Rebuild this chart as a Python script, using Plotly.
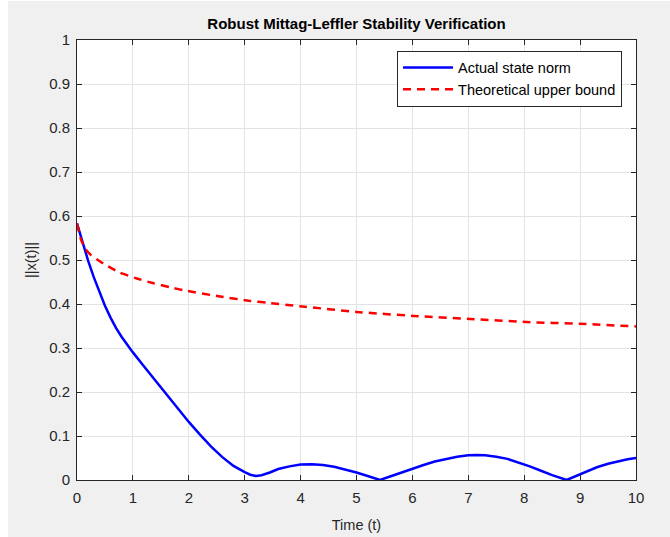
import plotly.graph_objects as go

# Actual state norm (blue solid)
t_actual = [0.0, 0.1, 0.2, 0.3, 0.4, 0.5, 0.6, 0.7, 0.8, 0.9, 1.0, 1.2, 1.4, 1.6, 1.8, 2.0, 2.2,
            2.4, 2.6, 2.8, 3.0, 3.1, 3.2, 3.3, 3.45, 3.6, 3.8, 4.0, 4.2, 4.4, 4.6, 4.8, 5.0, 5.2,
            5.42, 5.6, 5.8, 6.0, 6.2, 6.4, 6.6, 6.8, 7.0, 7.15, 7.3, 7.5, 7.7, 7.9, 8.1, 8.3,
            8.5, 8.76, 8.9, 9.1, 9.3, 9.5, 9.7, 9.85, 10.0]
x_actual = [0.583, 0.538, 0.498, 0.461, 0.427, 0.396, 0.369, 0.345, 0.325, 0.307, 0.290, 0.258,
            0.226, 0.194, 0.163, 0.132, 0.103, 0.076, 0.052, 0.032, 0.018, 0.012, 0.009, 0.011,
            0.017, 0.025, 0.031, 0.035, 0.036, 0.034, 0.030, 0.024, 0.017, 0.009, 0.0, 0.008,
            0.017, 0.026, 0.034, 0.042, 0.048, 0.053, 0.056, 0.057, 0.056, 0.053, 0.048, 0.040,
            0.031, 0.021, 0.011, 0.0, 0.008, 0.019, 0.029, 0.037, 0.043, 0.047, 0.050]

# Theoretical upper bound (red dashed)
t_bound = [0.0, 0.07, 0.15, 0.25, 0.47, 0.77, 1.07, 1.37, 1.66, 1.96, 2.56, 3.1, 3.39, 3.99,
           5.0, 6.02, 7.03, 8.04, 9.0, 10.0]
x_bound = [0.583, 0.547, 0.525, 0.511, 0.492, 0.471, 0.458, 0.447, 0.438, 0.430, 0.417, 0.407,
           0.403, 0.395, 0.382, 0.373, 0.366, 0.359, 0.355, 0.349]

x_ticks = list(range(0, 11))
x_tick_text = [str(v) for v in x_ticks]
y_ticks = [0, 0.1, 0.2, 0.3, 0.4, 0.5, 0.6, 0.7, 0.8, 0.9, 1]
y_tick_text = ["0", "0.1", "0.2", "0.3", "0.4", "0.5", "0.6", "0.7", "0.8", "0.9", "1"]

axis_color = "#262626"
font_family = "Liberation Sans, Arial, sans-serif"

fig = go.Figure()
fig.add_trace(go.Scatter(x=t_actual, y=x_actual, mode="lines", name="Actual state norm",
                         line=dict(color="#0000ff", width=2.5)))
fig.add_trace(go.Scatter(x=t_bound, y=x_bound, mode="lines", name="Theoretical upper bound",
                         line=dict(color="#ff0000", width=2.5, dash="8px,6px", shape="spline",
                                   smoothing=0.5)))

fig.update_layout(
    width=662, height=536,
    margin=dict(l=69, r=34, t=39, b=57, autoexpand=False),
    paper_bgcolor="#f0f0f0",
    plot_bgcolor="#ffffff",
    font=dict(family=font_family, color=axis_color, size=15),
    title=dict(text="<b>Robust Mittag-Leffler Stability Verification</b>",
               xref="paper", x=0.5, xanchor="center", y=0.957, yanchor="middle",
               font=dict(size=15, color="#000000")),
    showlegend=True,
    legend=dict(x=0.975, y=0.976, xanchor="right", yanchor="top",
                bgcolor="#ffffff", bordercolor=axis_color, borderwidth=1,
                font=dict(size=14.5, color="#000000"),
                tracegroupgap=0, itemwidth=50),
)

fig.update_xaxes(range=[0, 10], tickvals=x_ticks, ticktext=x_tick_text,
                 showgrid=True, gridcolor="#e3e3e3", gridwidth=1,
                 showline=True, linecolor=axis_color, linewidth=1, mirror="allticks",
                 ticks="inside", ticklen=5, tickcolor=axis_color, ticklabelstandoff=4,
                 tickfont=dict(size=15, color=axis_color), automargin=False,
                 title=dict(text="Time (t)", font=dict(size=14.5, color=axis_color), standoff=14),
                 zeroline=False)
fig.update_yaxes(range=[0, 1], tickvals=y_ticks, ticktext=y_tick_text,
                 showgrid=True, gridcolor="#e3e3e3", gridwidth=1,
                 showline=True, linecolor=axis_color, linewidth=1, mirror="allticks",
                 ticks="inside", ticklen=5, tickcolor=axis_color, ticklabelstandoff=3,
                 tickfont=dict(size=15, color=axis_color), automargin=False,
                 title=dict(text="||x(t)||", font=dict(size=14.5, color=axis_color), standoff=9),
                 zeroline=False)

fig.write_html("out.html", post_script="document.body.style.margin='1px 0 0 8px';")
